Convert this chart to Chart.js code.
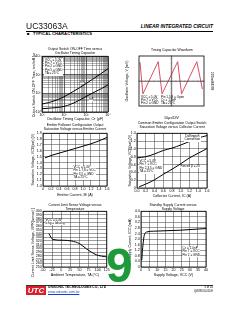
<!DOCTYPE html>
<html><head><meta charset="utf-8">
<script src="https://cdn.jsdelivr.net/npm/chart.js@4.4.1/dist/chart.umd.min.js"></script>
<style>
html,body{margin:0;padding:0;background:#fff;width:240px;height:310px;overflow:hidden;position:relative;font-family:"Liberation Sans",Arial,sans-serif;}
.t{position:absolute;white-space:nowrap;color:#000;line-height:1;}
.ct{position:absolute;white-space:nowrap;color:#000;font-size:3.4px;line-height:4px;text-align:center;transform:translateX(-50%);}
.lg{position:absolute;white-space:nowrap;color:#000;font-size:3.1px;line-height:3.4px;background:#fff;}
canvas{position:absolute;}
</style></head><body>

<div class="t" style="left:26px;top:22px;font-size:8.5px;color:#111;will-change:transform;">UC33063A</div>
<div class="t" style="right:27px;top:24.5px;font-size:4.9px;font-weight:bold;font-style:italic;">LINEAR INTEGRATED CIRCUIT</div>
<div style="position:absolute;left:26px;top:30.5px;width:187px;height:1px;background:#000;"></div>
<div class="t" style="left:27px;top:32.3px;font-size:4.2px;font-weight:bold;">■&nbsp;&nbsp;&nbsp;TYPICAL CHARACTERISTICS</div>

<div class="ct" style="left:75px;top:47px;">Output Switch ON-OFF Time versus<br>Oscillator Timing Capacitor</div>
<div class="ct" style="left:172px;top:48px;">Timing Capacitor Waveform</div>
<div class="ct" style="left:75px;top:123px;">Emitter Follower Configuration Output<br>Saturation Voltage versus Emitter Current</div>
<div class="ct" style="left:172px;top:121px;">Common Emitter Configuration Output Switch<br>Saturation Voltage versus Collector Current</div>
<div class="ct" style="left:75px;top:203px;">Current Limit Sense Voltage versus<br>Temperature</div>
<div class="ct" style="left:173px;top:203px;">Standby Supply Current versus<br>Supply Voltage</div>

<div class="t" style="left:106px;top:241.5px;font-size:48px;font-weight:bold;color:#1e9a3a;">9</div>

<div style="position:absolute;left:26px;top:284.5px;width:187px;height:0.8px;background:#333;"></div>
<div class="t" style="left:26px;top:286px;width:20px;height:9px;background:#d9202a;color:#fff;font-size:8px;font-weight:bold;font-style:italic;text-align:center;line-height:9px;">UTC</div>
<div class="t" style="left:48px;top:286.2px;font-size:3.3px;font-weight:bold;">UNISONIC TECHNOLOGIES CO., LTD</div>
<div class="t" style="left:48px;top:291.2px;font-size:3.3px;color:#1a3fc0;text-decoration:underline;">www.unisonic.com.tw</div>
<div class="t" style="right:27px;top:286.4px;font-size:2.8px;">5 of 10</div>
<div class="t" style="right:27px;top:291.4px;font-size:2.6px;">QW-R103-010.E</div>

<script>
// ---------- DATA ----------
// Chart 1: ON/OFF time vs timing capacitor (log-log)
const capPF   = [10, 20, 50, 100, 200, 500, 1000, 2000, 5000, 10000];
const tOnUs   = [2.7, 3.2, 4.6, 6.6, 10.5, 20, 34, 58, 120, 215];
const tOffUs  = [1.5, 1.6, 1.75, 2.0, 2.6, 4.3, 6.8, 10.5, 18, 29];
const c1XDecades = [10, 100, 1000, 10000];
const c1XLabels  = ['10¹', '10²', '10³', '10⁴'];
const c1YDecades = [1, 10, 100, 1000];
const c1YLabels  = ['10⁰', '10¹', '10²', '10³'];

// Chart 2: timing capacitor waveform (divisions)
const waveDivX = [0.15, 0.6, 2.95, 3.55, 5.95, 6.55, 8.9, 9.75];
const waveDivY = [7.0, 1.95, 7.1, 1.95, 7.1, 1.95, 7.1, 2.7];

// Chart 3: emitter follower saturation voltage vs emitter current
const ieA     = [0.05, 0.2, 0.4, 0.6, 0.8, 1.0, 1.2, 1.4, 1.6];
const vSatEF  = [1.48, 1.52, 1.56, 1.60, 1.64, 1.68, 1.72, 1.77, 1.83];

// Chart 4: common emitter saturation voltage vs collector current
const icA        = [0.0, 0.2, 0.4, 0.6, 0.8, 1.0, 1.2, 1.4, 1.6];
const vSatDarl   = [0.77, 0.80, 0.87, 0.96, 1.02, 1.10, 1.19, 1.28, 1.34];
const icA2       = [0.05, 0.2, 0.4, 0.6, 0.8, 1.0, 1.2, 1.4, 1.6];
const vSatForced = [0.03, 0.10, 0.21, 0.35, 0.48, 0.62, 0.77, 0.89, 1.01];

// Chart 5: current limit sense voltage vs temperature
const tempC   = [-34, -23, 5, 28, 50, 69, 96, 125];
const vSenseMv = [340, 324, 322, 320, 313, 299, 283, 277];

// Chart 6: standby supply current vs supply voltage
const vccV  = [0.5, 0.6, 1.2, 2.0, 3.7, 7.7, 24, 40];
const iccMa = [0.5, 0.72, 1.56, 2.28, 2.52, 2.57, 2.64, 2.76];

// ---------- RENDER ----------
const FF = '"Liberation Sans", Arial, sans-serif';
Chart.defaults.font.family = FF;
Chart.defaults.color = '#000';
const TF = {size: 3.6, lineHeight: 1.15};
const GRID = '#3a3a3a';

const frame = {id: 'frame', afterDatasetsDraw(c) {
  const a = c.chartArea, x = c.ctx;
  x.save(); x.strokeStyle = '#000'; x.lineWidth = 0.8;
  x.strokeRect(a.left, a.top, a.right - a.left, a.bottom - a.top);
  x.restore();
}};

function mk(L, T, R, B, p, cfg) {
  const cv = document.createElement('canvas');
  const w = R - L + p.l + p.r, h = B - T + p.t + p.b;
  cv.width = w; cv.height = h;
  cv.style.left = (L - p.l) + 'px'; cv.style.top = (T - p.t) + 'px';
  cv.style.width = w + 'px'; cv.style.height = h + 'px';
  document.body.insertBefore(cv, document.body.firstChild);
  const o = cfg.options;
  o.responsive = false; o.animation = false; o.devicePixelRatio = 1;
  o.layout = {padding: {top: p.t, right: p.r - (p.y2 || 0), left: 0, bottom: 0}};
  o.plugins = Object.assign({legend: {display: false}, tooltip: {enabled: false}}, o.plugins || {});
  o.scales.x.afterFit = s => { s.height = p.b; };
  o.scales.y.afterFit = s => { s.width = p.l; };
  if (o.scales.y2) o.scales.y2.afterFit = s => { s.width = p.y2; };
  cfg.plugins = [frame].concat(cfg.plugins || []);
  return new Chart(cv, cfg);
}
function title(t) { return {display: true, text: t, font: TF, padding: 0}; }
function linAxis(min, max, step, dec, t, extra) {
  return Object.assign({
    type: 'linear', min, max,
    grid: {color: GRID, lineWidth: 0.5, drawTicks: false},
    border: {display: false},
    ticks: {stepSize: step, autoSkip: false, maxRotation: 0, font: TF, padding: 1.2,
            callback: v => Number(v).toFixed(dec)},
    title: title(t)
  }, extra || {});
}
function line(xs, ys, color, w, smooth) {
  return {data: xs.map((x, i) => ({x, y: ys[i]})), borderColor: color, borderWidth: w,
          pointRadius: 0, fill: false, tension: 0,
          cubicInterpolationMode: smooth ? 'monotone' : 'default'};
}
function logGrid(dec) {
  const out = [];
  for (let i = 0; i < dec.length; i++) {
    if (i === dec.length - 1) { out.push(dec[i]); break; }
    for (let k = 1; k < 10; k++) out.push(dec[i] * k);
  }
  return out;
}
function logAxis(dec, labels, t) {
  return {
    type: 'logarithmic', min: dec[0], max: dec[dec.length - 1],
    afterBuildTicks: s => { s.ticks = logGrid(dec).map(v => ({value: v})); },
    grid: {color: GRID, lineWidth: c => dec.includes(c.tick && c.tick.value) ? 0.8 : 0.4, drawTicks: false},
    border: {display: false},
    ticks: {autoSkip: false, maxRotation: 0, font: TF, padding: 1.2,
            callback: v => { const i = dec.indexOf(v); return i >= 0 ? labels[i] : ''; }},
    title: title(t)
  };
}

// Chart 1
mk(42, 56, 108, 112, {l: 10, t: 3, r: 5, b: 9}, {
  type: 'line',
  data: {datasets: [line(capPF, tOnUs, '#000', 1, true), line(capPF, tOffUs, '#000', 1, true)]},
  options: {scales: {
    x: logAxis(c1XDecades, c1XLabels, 'Oscillator Timing Capacitor, Cт (pF)'),
    y: logAxis(c1YDecades, c1YLabels, 'Output Switch ON-OFF Time, ton/toff (μs)')
  }}
});

// Chart 2 (scope)
const scopeTicks = {id: 'scopeTicks', afterDatasetsDraw(c) {
  const x = c.ctx, sx = c.scales.x, sy = c.scales.y;
  const cx = sx.getPixelForValue(5), cy = sy.getPixelForValue(4);
  x.save(); x.strokeStyle = GRID; x.lineWidth = 0.4; x.beginPath();
  for (let v = 0; v <= 10.001; v += 0.2) { const p = sx.getPixelForValue(v); x.moveTo(p, cy - 0.9); x.lineTo(p, cy + 0.9); }
  for (let v = 0; v <= 8.001; v += 0.2) { const p = sy.getPixelForValue(v); x.moveTo(cx - 0.9, p); x.lineTo(cx + 0.9, p); }
  x.stroke(); x.restore();
}};
mk(139, 56, 204, 106, {l: 14, t: 3, r: 10, b: 14, y2: 10}, {
  type: 'line',
  data: {datasets: [line(waveDivX, waveDivY, '#d63a50', 0.9, false)]},
  plugins: [scopeTicks],
  options: {scales: {
    x: {type: 'linear', min: 0, max: 10, border: {display: false},
        grid: {drawTicks: false, lineWidth: 0.5, color: c => c.tick && c.tick.value === 5 ? GRID : 'transparent'},
        ticks: {display: false, stepSize: 1}, title: title('10μs/DIV')},
    y: {type: 'linear', min: 0, max: 8, border: {display: false},
        grid: {drawTicks: false, lineWidth: 0.5, color: c => c.tick && c.tick.value === 4 ? GRID : 'transparent'},
        ticks: {display: false, stepSize: 1}, title: title('Oscillator Voltage, V (mV)')},
    y2: {type: 'linear', position: 'right', min: 0, max: 8, grid: {display: false}, border: {display: false},
        ticks: {display: false}, title: title('200mV/DIV')}
  }}
});

// Chart 3
mk(43, 133, 107, 186, {l: 12, t: 3, r: 5, b: 11}, {
  type: 'line',
  data: {datasets: [line(ieA, vSatEF, '#000', 1, true)]},
  options: {scales: {
    x: linAxis(0, 1.6, 0.2, 1, 'Emitter Current, IE (A)', {ticks: {stepSize: 0.2, autoSkip: false, maxRotation: 0, font: TF, padding: 1.2, callback: v => v === 0 ? '0' : Number(v).toFixed(1)}}),
    y: linAxis(1.0, 1.9, 0.1, 1, 'Saturation Voltage, VCE(sat) (V)')
  }}
});

// Chart 4
mk(137, 133, 207, 188, {l: 9, t: 3, r: 4, b: 10}, {
  type: 'line',
  data: {datasets: [line(icA, vSatDarl, '#000', 1, true), line(icA2, vSatForced, '#000', 1, true)]},
  options: {scales: {
    x: linAxis(0, 1.6, 0.2, 1, 'Collector Current, IC (A)'),
    y: linAxis(0, 1.4, 0.2, 1, 'Saturation Voltage, VCE(sat) (V)', {ticks: {stepSize: 0.2, autoSkip: false, font: TF, padding: 1.2, callback: v => v === 0 ? '0' : Number(v).toFixed(1)}})
  }}
});

// Chart 5
mk(43, 211, 107, 267, {l: 12, t: 3, r: 4, b: 10}, {
  type: 'line',
  data: {datasets: [line(tempC, vSenseMv, '#000', 1, true)]},
  options: {scales: {
    x: linAxis(-50, 125, 25, 0, 'Ambient Temperature, TA (°C)'),
    y: linAxis(250, 400, 10, 0, 'Current Limit Sense Voltage, VIPK(sense) (mV)')
  }}
});

// Chart 6
mk(141, 211, 206, 267, {l: 13, t: 3, r: 4, b: 10}, {
  type: 'line',
  data: {datasets: [line(vccV, iccMa, '#000', 1, true)]},
  options: {scales: {
    x: linAxis(0, 40, 5, 0, 'Supply Voltage, VCC (V)'),
    y: linAxis(0, 4.0, 0.4, 1, 'Supply Current, ICC (mA)', {ticks: {stepSize: 0.4, autoSkip: false, font: TF, padding: 1.2, callback: v => v === 0 ? '0' : Number(v).toFixed(1)}})
  }}
});
</script>

<div class="lg" style="left:44px;top:58px;padding:0.5px 1px;">VCC = 5.0V<br>Pin 7 = VCC<br>Pin 2 = GND<br>Pin 5 = GND<br>TA = 25°C</div>
<div class="t" style="left:80px;top:81px;font-size:3.2px;background:#fff;">ton</div>
<div class="t" style="left:89px;top:98px;font-size:3.2px;background:#fff;">toff</div>

<div class="lg" style="left:141px;top:95.5px;background:transparent;">VCC = 5.0V<br>Pin 7 = VCC<br>Pin 2 = GND</div>
<div class="lg" style="left:161px;top:95.5px;background:transparent;">Pin 1,5,8 = Open<br>Cт = 1.0nF<br>TA = 25°C</div>

<div class="lg" style="left:73px;top:166px;padding:0 0.5px;">VCC = 5.0V<br>Pin 1,7,8 = VCC<br>Pin 3,5 = GND<br>TA = 25°C</div>

<div class="lg" style="left:139px;top:160px;padding:0 0.5px;">VCC = 5.0V<br>Pin 7 = VCC<br>Pin 2,3,5 = GND<br>TA = 25°C</div>
<div class="lg" style="left:184px;top:135px;padding:0 0.5px;text-align:center;">Darlington<br>Connection</div>
<div class="lg" style="left:180px;top:165px;padding:0 0.5px;">Forced β = 20</div>

<div class="lg" style="left:45px;top:218.5px;padding:0 0.5px;">VCC = 5.0V<br>Ichg = Idischg</div>

<div class="lg" style="left:182px;top:247px;padding:0 0.5px;">Cт = 1.0nF<br>Pin 7 = VCC<br>Pin 2 = GND</div>
</body></html>
